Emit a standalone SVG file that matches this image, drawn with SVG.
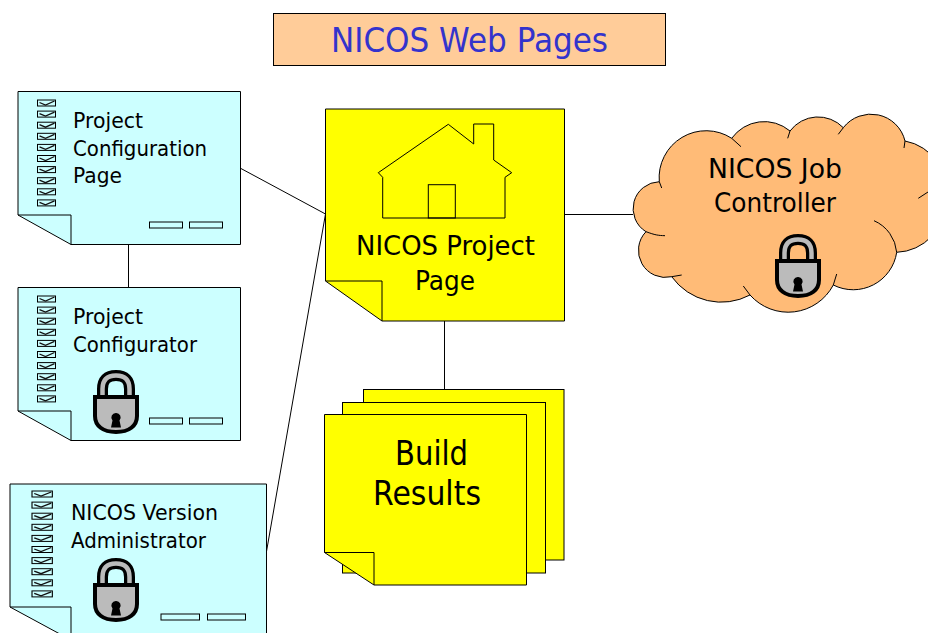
<svg xmlns="http://www.w3.org/2000/svg" xmlns:xlink="http://www.w3.org/1999/xlink" width="928" height="633" viewBox="0 0 928 633">
<style>
text{font-family:"DejaVu Sans","Liberation Sans",sans-serif;fill:#000}
.s{stroke:#000;stroke-width:1;fill:none}
.cy{fill:#CCFFFF;stroke:#000;stroke-width:1}
.ye{fill:#FFFF00;stroke:#000;stroke-width:1}
.btn{fill:#CCFFFF;stroke:#000;stroke-width:1}
.t22{font-size:22px}
.t25{font-size:26px}
.t34{font-size:34px}
</style>
<defs>
<g id="chk"><rect x="0" y="0" width="18" height="6" fill="#CCFFFF" stroke="#000" stroke-width="1"/><path d="M2 2.500L8 5L17 1" fill="none" stroke="#111" stroke-width="1.300"/></g>
<g id="chks">
<use xlink:href="#chk" y="0"/><use xlink:href="#chk" y="11.1"/><use xlink:href="#chk" y="22.2"/><use xlink:href="#chk" y="33.3"/><use xlink:href="#chk" y="44.4"/><use xlink:href="#chk" y="55.5"/><use xlink:href="#chk" y="66.6"/><use xlink:href="#chk" y="77.7"/><use xlink:href="#chk" y="88.8"/><use xlink:href="#chk" y="99.9"/>
</g>
<g id="lock">
<path d="M9.500 29V19C9.500 10 14 5.500 23 5.500C32 5.500 36.500 10 36.500 19V29" fill="none" stroke="#000" stroke-width="11"/>
<path d="M9.500 29V19C9.500 10 14 5.500 23 5.500C32 5.500 36.500 10 36.500 19V29" fill="none" stroke="#BBBBBB" stroke-width="4.500"/>
<path d="M2 27H44V46C44 56 36 62 23 62C10 62 2 56 2 46Z" fill="#BBBBBB" stroke="#000" stroke-width="4"/>
<path d="M23 43a4.500 4.500 0 0 1 3.500 7.500l1.500 7h-10l1.500-7a4.500 4.500 0 0 1 3.500-7.500Z" fill="#000"/>
</g>
</defs>
<g id="connectors" class="s">
<line x1="240" y1="168" x2="325.500" y2="214"/>
<line x1="128.500" y1="244" x2="128.500" y2="288"/>
<line x1="325.500" y1="214" x2="265" y2="560"/>
<line x1="564" y1="214.500" x2="633" y2="214.500"/>
<line x1="444.500" y1="321" x2="444.500" y2="390"/>
</g>
<g id="title">
<rect x="273.500" y="13.500" width="392" height="52" fill="#FFCC99" stroke="#000"/>
<text x="331" y="52" font-size="33" style="fill:#3333CC" textLength="277" lengthAdjust="spacingAndGlyphs">NICOS Web Pages</text>
</g>
<g id="project-configuration-page">
<path class="cy" d="M18 91.500H240.500V244.500H71L18 215Z"/>
<path class="s" d="M18 215H71V244.500"/>
<use xlink:href="#chks" x="37.500" y="100"/>
<rect class="btn" x="149.500" y="222" width="33" height="6"/><rect class="btn" x="189.500" y="222" width="33" height="6"/>
<text class="t22" x="73" y="128" textLength="70" lengthAdjust="spacingAndGlyphs">Project</text>
<text class="t22" x="73" y="156" textLength="134" lengthAdjust="spacingAndGlyphs">Configuration</text>
<text class="t22" x="73" y="183" textLength="49" lengthAdjust="spacingAndGlyphs">Page</text>
</g>
<g id="project-configurator">
<path class="cy" d="M18 287.500H240.500V440.500H71L18 411Z"/>
<path class="s" d="M18 411H71V440.500"/>
<use xlink:href="#chks" x="37.500" y="296"/>
<rect class="btn" x="149.500" y="418" width="33" height="6"/><rect class="btn" x="189.500" y="418" width="33" height="6"/>
<text class="t22" x="73" y="324" textLength="70" lengthAdjust="spacingAndGlyphs">Project</text>
<text class="t22" x="73" y="352" textLength="124" lengthAdjust="spacingAndGlyphs">Configurator</text>
<use xlink:href="#lock" x="93" y="370"/>
</g>
<g id="nicos-version-administrator">
<path class="cy" d="M10 484H266.500V640H71L10 607Z"/>
<path class="s" d="M10 607H71V640"/>
<g transform="translate(32 491) scale(1.130 1)"><use xlink:href="#chks"/></g>
<rect class="btn" x="161" y="614" width="38.500" height="6"/><rect class="btn" x="207.500" y="614" width="38" height="6"/>
<text class="t22" x="71" y="520" textLength="147" lengthAdjust="spacingAndGlyphs">NICOS Version</text>
<text class="t22" x="71" y="548" textLength="135" lengthAdjust="spacingAndGlyphs">Administrator</text>
<use xlink:href="#lock" x="93" y="558"/>
</g>
<g id="nicos-project-page">
<path class="ye" d="M325.500 109H564.500V321H382L325.500 281Z"/>
<path class="s" d="M325.500 281H382V321"/>
<path class="s" d="M378.300 172.700L448.300 124.300L473.700 144V124H493.700V160L511.700 172.700L505 177.300V218H382.700V177.300Z"/>
<rect class="s" x="428.300" y="184.700" width="27" height="33.300"/>
<text class="t25" x="356" y="255" textLength="179" lengthAdjust="spacingAndGlyphs">NICOS Project</text>
<text class="t25" x="415" y="290" textLength="60" lengthAdjust="spacingAndGlyphs">Page</text>
</g>
<g id="nicos-job-controller">
<path d="M646 231.700A27 27 0 0 1 659.300 181.700A47 47 0 0 1 731.700 138.300A40 40 0 0 1 790 131A35 35 0 0 1 843.300 127.700A35 35 0 0 1 905 141A50 50 0 0 1 945 200A50 50 0 0 1 896.700 252.300A44 44 0 0 1 833.300 285A51 51 0 0 1 750 295A61 61 0 0 1 671.700 276.700A27 27 0 0 1 646 231.700Z" fill="#FFBB77" stroke="#000"/>
<path class="s" d="M659.300 181.700L661.700 188M731.700 138.300L741 146.700M790 131L787.700 138.300M843.300 127.700L838.300 134.300M905 141L904 148M928 192L918.300 198.300M896.700 252.300A38 38 0 0 0 874 220.700M836.700 274L833.300 285M750 295L743.300 286M671.700 276.700L681.700 275M646 231.700C655 235 658 235.500 665 235.700"/>
<text class="t25" x="708" y="178" textLength="134" lengthAdjust="spacingAndGlyphs">NICOS Job</text>
<text class="t25" x="714" y="212" textLength="122" lengthAdjust="spacingAndGlyphs">Controller</text>
<use xlink:href="#lock" x="775" y="234"/>
</g>
<g id="build-results">
<rect class="ye" x="363.500" y="389.500" width="200.500" height="170.500"/>
<rect class="ye" x="342.500" y="402.500" width="203" height="170.500"/>
<path class="ye" d="M324.500 414.500H526.500V585H374L324.500 552.500Z"/>
<path class="s" d="M324.500 552.500H374V585"/>
<text class="t34" x="395" y="465" textLength="73" lengthAdjust="spacingAndGlyphs">Build</text>
<text class="t34" x="373" y="505" textLength="108" lengthAdjust="spacingAndGlyphs">Results</text>
</g>
</svg>
